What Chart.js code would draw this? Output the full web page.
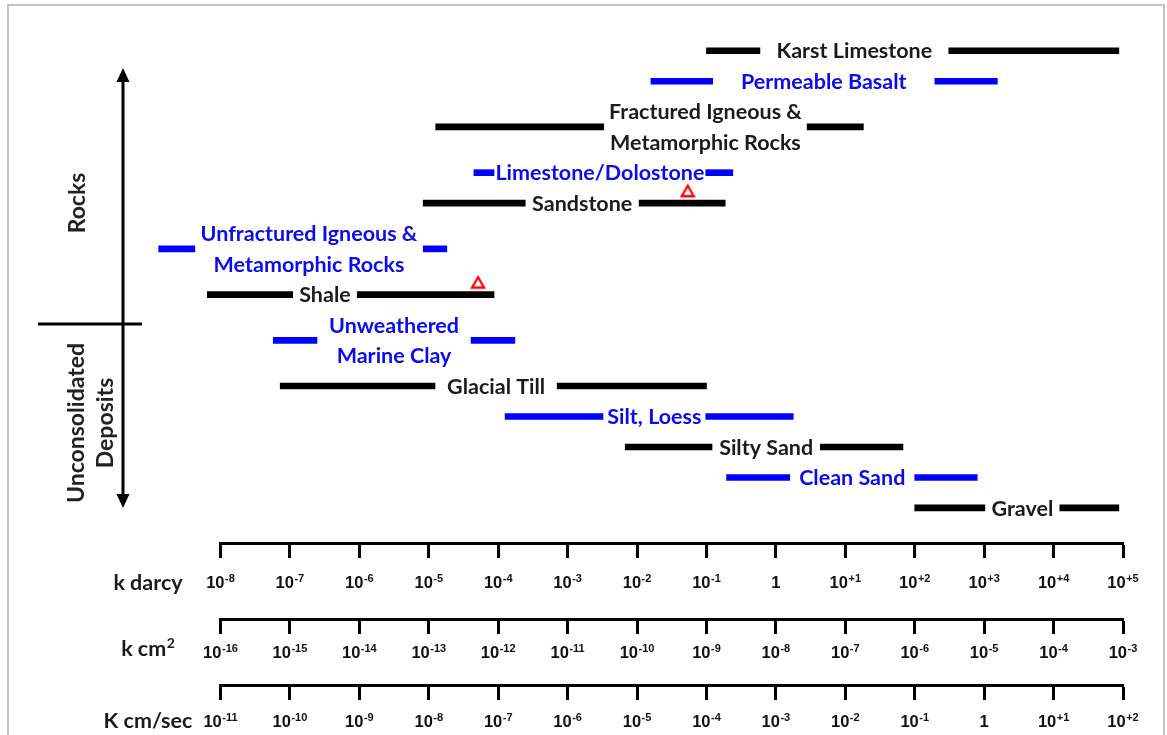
<!DOCTYPE html>
<html><head><meta charset="utf-8">
<script src="https://cdn.jsdelivr.net/npm/chart.js@4"></script>
<style>
html,body{margin:0;padding:0;background:#fff;}
#wrap{position:relative;width:1167px;height:735px;overflow:hidden;background:#fff;}
#frame{position:absolute;left:7px;top:4px;width:1154px;height:800px;border:2px solid #c4c4c4;box-sizing:content-box;}
canvas{position:absolute;left:0;top:0;}
</style></head><body>
<div id="wrap"><div id="frame"></div><canvas id="c" width="1167" height="735"></canvas></div>
<script>
// ---------------- data ----------------
const materials = [
  'Karst Limestone',
  'Permeable Basalt',
  'Fractured Igneous &\nMetamorphic Rocks',
  'Limestone/Dolostone',
  'Sandstone',
  'Unfractured Igneous &\nMetamorphic Rocks',
  'Shale',
  'Unweathered\nMarine Clay',
  'Glacial Till',
  'Silt, Loess',
  'Silty Sand',
  'Clean Sand',
  'Gravel'
];
const colorKey = ['black','blue','black','blue','black','blue','black','blue','black','blue','black','blue','black'];
// permeability range, log10 of k in darcy
const logKMin = [-1.00, -1.80, -4.90, -4.35, -5.08, -8.89, -8.19, -7.24, -7.14, -3.90, -2.17, -0.71, 2.00];
const logKMax = [ 4.94,  3.19,  1.26, -0.62, -0.73, -4.74, -4.06, -3.76, -1.00,  0.25,  1.83,  2.90, 4.94];
// part of each range covered by its label (log10 darcy)
const labelGapMin = [-0.23, -0.91, -2.48, -4.06, -3.61, -8.37, -6.96, -6.61, -4.91, -2.49, -0.92, 0.20, 3.01];
const labelGapMax = [ 2.49,  2.29,  0.45, -1.01, -1.97, -5.08, -6.03, -4.39, -3.15, -1.01,  0.64, 2.00, 4.09];
// red triangle markers
const markerMaterial = ['Sandstone', 'Shale'];
const markerLogK = [-1.27, -4.29];
// axis tick exponents
const darcyTickExp = [-8,-7,-6,-5,-4,-3,-2,-1,0,1,2,3,4,5];
const cm2TickExp   = [-16,-15,-14,-13,-12,-11,-10,-9,-8,-7,-6,-5,-4,-3];
const cmsTickExp   = [-11,-10,-9,-8,-7,-6,-5,-4,-3,-2,-1,0,1,2];
const axisTitles = ['k darcy', 'k cm|2', 'K cm/sec'];
const groupTitles = [['Rocks'], ['Unconsolidated', 'Deposits']];

// ---------------- build ----------------
const INK  = {black:'#000000', blue:'#0000ff'};
const TEXT = {black:'#1b1b1b', blue:'#0b0bf0'};
const LABEL_FONT = 'bold 21.5px Lato';

const rowPos = []; let slot = 0;
materials.forEach(m => { const n = m.split('\n').length; rowPos.push(slot + (n-1)/2); slot += n; });
const totalSlots = slot;

const barData = [], barColors = [];
materials.forEach((m, i) => {
  const c = INK[colorKey[i]];
  barData.push({x:[Math.pow(10, logKMin[i]), Math.pow(10, labelGapMin[i])], y: rowPos[i]});
  barData.push({x:[Math.pow(10, labelGapMax[i]), Math.pow(10, logKMax[i])], y: rowPos[i]});
  barColors.push(c, c);
});
const markerData = markerMaterial.map((m, j) => ({x: Math.pow(10, markerLogK[j]), y: rowPos[materials.indexOf(m)]}));

function triangleMarker(){
  const c = document.createElement('canvas'); c.width = 16; c.height = 40;
  const g = c.getContext('2d');
  g.strokeStyle = '#ff0000'; g.lineWidth = 2.3; g.lineJoin = 'miter';
  g.beginPath(); g.moveTo(8, 2.5); g.lineTo(14, 13); g.lineTo(2, 13); g.closePath(); g.stroke();
  return c;
}

function expLabel(e){ return e === 0 ? ['1',''] : ['10', (e > 0 ? '+' : '-') + Math.abs(e)]; }

function supText(ctx, base, sup, cx, cy, baseFont, supFont, capH, rise, color){
  ctx.font = baseFont; const wb = ctx.measureText(base).width;
  ctx.font = supFont; const ws = sup ? ctx.measureText(sup).width + 0.5 : 0;
  const x = cx - (wb + ws)/2, by = cy + capH/2;
  ctx.fillStyle = color; ctx.textAlign = 'left'; ctx.textBaseline = 'alphabetic';
  ctx.font = baseFont; ctx.fillText(base, x, by);
  if (sup){ ctx.font = supFont; ctx.fillText(sup, x + wb + 0.5, by - rise); }
}

const labelPlugin = {
  id: 'barLabels',
  afterDatasetsDraw(chart){
    const ctx = chart.ctx, xs = chart.scales.x, ys = chart.scales.y;
    ctx.save();
    ctx.font = LABEL_FONT; ctx.textAlign = 'center'; ctx.textBaseline = 'alphabetic';
    materials.forEach((m, i) => {
      const cx = (xs.getPixelForValue(Math.pow(10, labelGapMin[i])) + xs.getPixelForValue(Math.pow(10, labelGapMax[i])))/2;
      const lines = m.split('\n');
      const s0 = rowPos[i] - (lines.length - 1)/2;
      ctx.fillStyle = TEXT[colorKey[i]];
      lines.forEach((ln, k) => ctx.fillText(ln, cx, ys.getPixelForValue(s0 + k) + 7.7));
    });
    ctx.restore();
  }
};

const axisSpec = [
  {id:'x',  exps: darcyTickExp, labelDy: 39, titleDy: 39},
  {id:'x2', exps: cm2TickExp,   labelDy: 33, titleDy: 29},
  {id:'x3', exps: cmsTickExp,   labelDy: 35.5, titleDy: 35}
];

const decorPlugin = {
  id: 'decor',
  afterDraw(chart){
    const ctx = chart.ctx;
    ctx.save();
    // tick labels and axis titles
    axisSpec.forEach((a, ai) => {
      const sc = chart.scales[a.id];
      a.exps.forEach(e => {
        const [b, s] = expLabel(e);
        supText(ctx, b, s, sc.getPixelForValue(Math.pow(10, e)), sc.top + a.labelDy,
          'bold 16.5px "Liberation Sans"', 'bold 11px "Liberation Sans"', 12, 6, '#111');
      });
      const [tb, ts] = axisTitles[ai].split('|');
      supText(ctx, tb, ts || '', 148, sc.top + a.titleDy, LABEL_FONT, 'bold 14px Lato', 15.5, 8, '#1b1b1b');
    });
    // group arrow
    ctx.strokeStyle = '#000'; ctx.fillStyle = '#000'; ctx.lineWidth = 3;
    ctx.beginPath(); ctx.moveTo(123, 80); ctx.lineTo(123, 497); ctx.stroke();
    ctx.beginPath(); ctx.moveTo(123, 68); ctx.lineTo(129.5, 82); ctx.lineTo(116.5, 82); ctx.closePath(); ctx.fill();
    ctx.beginPath(); ctx.moveTo(123, 508); ctx.lineTo(129.5, 494); ctx.lineTo(116.5, 494); ctx.closePath(); ctx.fill();
    ctx.beginPath(); ctx.moveTo(38, 324); ctx.lineTo(142, 324); ctx.stroke();
    // group titles
    ctx.fillStyle = '#222'; ctx.font = 'bold 23px Lato'; ctx.textAlign = 'center'; ctx.textBaseline = 'alphabetic';
    const drawV = (txt, x, y) => { ctx.save(); ctx.translate(x, y); ctx.rotate(-Math.PI/2); ctx.fillText(txt, 0, 8.2); ctx.restore(); };
    drawV(groupTitles[0][0], 77, 203);
    drawV(groupTitles[1][0], 76, 423);
    drawV(groupTitles[1][1], 105, 423);
    ctx.restore();
  }
};

function bottomAxis(min, max, exps, weight, h){
  return {
    type: 'logarithmic', position: 'bottom', min, max, weight,
    afterBuildTicks: s => { s.ticks = exps.map(e => ({value: Math.pow(10, e)})); },
    afterFit: s => { s.height = h; },
    ticks: {display: false},
    grid: {display: true, drawOnChartArea: false, drawTicks: true, tickLength: 15, tickWidth: 3, tickColor: '#000', color: '#000'},
    border: {display: true, width: 3, color: '#000'}
  };
}

function make(){
  new Chart(document.getElementById('c'), {
    type: 'bar',
    data: {
      datasets: [
        {type: 'bar', label: 'Permeability range', data: barData, backgroundColor: barColors,
         borderWidth: 0, barThickness: 6, xAxisID: 'x', yAxisID: 'y', clip: false, order: 2},
        {type: 'scatter', label: 'Markers', data: markerData, pointStyle: triangleMarker(),
         pointRadius: 8, xAxisID: 'x', yAxisID: 'y', clip: false, order: 1}
      ]
    },
    options: {
      indexAxis: 'y',
      responsive: false, animation: false, devicePixelRatio: 1, events: [],
      layout: {padding: {left: 220.5, right: 44, top: 35.5, bottom: 0}},
      plugins: {legend: {display: false}, tooltip: {enabled: false}},
      scales: {
        y: {type: 'linear', reverse: true, offset: false, min: -0.5, max: totalSlots + 0.15, display: false},
        x:  bottomAxis(Math.pow(10, darcyTickExp[0]), Math.pow(10, darcyTickExp[darcyTickExp.length-1]), darcyTickExp, 0, 76),
        x2: bottomAxis(Math.pow(10, cm2TickExp[0]), Math.pow(10, cm2TickExp[cm2TickExp.length-1]), cm2TickExp, 1, 66),
        x3: bottomAxis(Math.pow(10, cmsTickExp[0]), Math.pow(10, cmsTickExp[cmsTickExp.length-1]), cmsTickExp, 2, 50)
      }
    },
    plugins: [labelPlugin, decorPlugin]
  });
}
const fontLoads = [LABEL_FONT, 'bold 23px Lato', 'bold 16.5px "Liberation Sans"'].map(f => document.fonts.load(f));
Promise.all(fontLoads).then(make, make);
</script>
</body></html>
